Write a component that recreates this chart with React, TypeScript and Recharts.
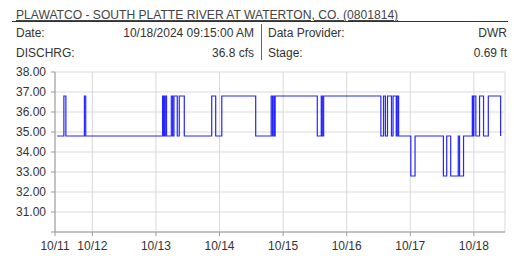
import { LineChart, Line, XAxis, YAxis, CartesianGrid } from 'recharts';

// hours since 10/11 00:00 where the reading changes, and the reading from then on
const changeHours = [
    10.75, 13.25, 14.0, 21.0, 21.5,
    50.5, 50.75, 51.0, 51.25, 51.5, 52.0,
    53.8, 54.3, 54.8, 56.05, 56.8, 58.7,
    69.05, 70.55, 72.85, 85.65,
    91.5, 92.0, 92.5, 92.75, 93.0,
    108.9, 110.4, 110.8, 111.3,
    132.9, 133.9, 134.6, 135.4, 136.9, 137.5, 138.7, 139.1, 139.6,
    144.2, 145.8,
    156.5, 157.75, 159.25, 162.1, 162.6, 164.1,
    167.4, 167.75, 168.0, 168.75, 170.15, 171.65, 173.45, 178.1,
];
const cfsValues = [
    34.8, 36.8, 34.8, 36.8, 34.8,
    36.8, 34.8, 36.8, 34.8, 36.8, 34.8,
    36.8, 34.8, 36.8, 34.8, 36.8, 34.8,
    36.8, 34.8, 36.8, 34.8,
    36.8, 34.8, 36.8, 34.8, 36.8,
    34.8, 36.8, 34.8, 36.8,
    34.8, 36.8, 34.8, 36.8, 34.8, 36.8, 34.8, 36.8, 34.8,
    32.8, 34.8,
    32.8, 34.8, 32.8, 34.8, 32.8, 34.8,
    36.8, 34.8, 36.8, 34.8, 36.8, 34.8, 36.8, 34.8,
];

const xTicks = [9.9, 24, 48, 72, 96, 120, 144, 168];
const xTickLabels = ['10/11', '10/12', '10/13', '10/14', '10/15', '10/16', '10/17', '10/18'];
const yTicks = [30, 31, 32, 33, 34, 35, 36, 37, 38];

const title = 'PLAWATCO - SOUTH PLATTE RIVER AT WATERTON, CO. (0801814)';
const infoRows = [
    ['Date:', '10/18/2024 09:15:00 AM', 'Data Provider:', 'DWR'],
    ['DISCHRG:', '36.8 cfs', 'Stage:', '0.69 ft'],
];

const data = changeHours.map((h, i) => ({ h, cfs: cfsValues[i] }));

const font = '"Liberation Sans", Arial, sans-serif';
const textColor = '#333';

export default function App() {
    return (
        <div
            style={{
                position: 'fixed',
                left: 0,
                top: 0,
                width: 514,
                height: 256,
                background: '#fff',
                fontFamily: font,
                color: textColor,
            }}
        >
            <div
                style={{
                    position: 'absolute',
                    left: 16,
                    top: 7,
                    fontSize: 12.1,
                    lineHeight: '16px',
                    textDecoration: 'underline',
                    color: '#444',
                    whiteSpace: 'nowrap',
                }}
            >
                {title}
            </div>
            <div style={{ position: 'absolute', left: 12, top: 21, width: 496, height: 1, background: '#333' }} />
            <div style={{ position: 'absolute', left: 261, top: 24, width: 1, height: 36, background: '#666' }} />
            {infoRows.map((row, i) => (
                <div key={i} style={{ fontSize: 12, lineHeight: '14px', whiteSpace: 'nowrap' }}>
                    <span style={{ position: 'absolute', left: 16, top: 26 + i * 20 }}>{row[0]}</span>
                    <span style={{ position: 'absolute', right: 514 - 254, top: 26 + i * 20 }}>{row[1]}</span>
                    <span style={{ position: 'absolute', left: 268, top: 26 + i * 20 }}>{row[2]}</span>
                    <span style={{ position: 'absolute', right: 514 - 507, top: 26 + i * 20 }}>{row[3]}</span>
                </div>
            ))}
            <div style={{ position: 'absolute', left: 0, top: 60 }}>
                <LineChart width={514} height={196} data={data} margin={{ top: 12, right: 9, left: 0, bottom: 0 }}>
                    <CartesianGrid stroke="#d9d9d9" />
                    <XAxis
                        dataKey="h"
                        type="number"
                        domain={[9.9, 179.75]}
                        ticks={xTicks}
                        tickFormatter={(v: number) => xTickLabels[xTicks.indexOf(v)] ?? ''}
                        stroke="#999"
                        tickSize={4}
                        tickMargin={5}
                        tick={{ fill: '#333', fontSize: 12, fontFamily: font }}
                        interval={0}
                        height={24}
                    />
                    <YAxis
                        type="number"
                        domain={[30, 38]}
                        ticks={yTicks}
                        tickFormatter={(v: number) => (v === 30 ? '' : v.toFixed(2))}
                        stroke="#999"
                        tickSize={4}
                        tickMargin={5}
                        tick={{ fill: '#333', fontSize: 12, fontFamily: font }}
                        interval={0}
                        width={55}
                    />
                    <Line
                        type="stepAfter"
                        dataKey="cfs"
                        stroke="#0000ff"
                        strokeWidth={1.2}
                        strokeOpacity={0.85}
                        dot={false}
                        isAnimationActive={false}
                    />
                </LineChart>
            </div>
        </div>
    );
}
